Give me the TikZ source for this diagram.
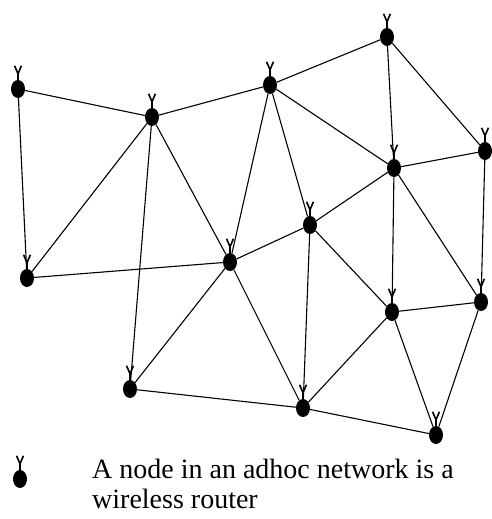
\documentclass[tikz,border=0pt]{standalone}
\usepackage{fontspec}
\setmainfont{Liberation Serif}
\usetikzlibrary{shapes.geometric}
\tikzset{
  router/.style={ellipse, fill=black, draw=none, inner sep=0pt, minimum width=14pt, minimum height=18pt},
  antenna/.style={line width=1.6pt},
  link/.style={line width=1.1pt},
  legendtext/.style={anchor=base west, inner sep=0pt, font=\fontsize{28}{32}\selectfont}
}
\newcommand{\router}[2]{%
  \node[router] (#1) at (#2) {};
  \draw[antenna] (#1.north) -- ++(0,-6) -- ++(-3.4,-8) ++(3.4,8) -- ++(3.4,-8);
}
\begin{document}
\begin{tikzpicture}[x=1pt,y=-1pt]
\useasboundingbox (0,0) rectangle (492,519);
\router{A}{18,89}
\router{B}{152,117}
\router{C}{270,85}
\router{D}{387,37}
\router{E}{485,151}
\router{F}{394,168}
\router{G}{310,225}
\router{H}{230,262}
\router{I}{27,278}
\router{J}{392,312}
\router{K}{481,302}
\router{L}{130,389}
\router{M}{303,408}
\router{N}{436,435}
\foreach \a/\b in {A/B,A/I,B/C,B/I,B/H,B/L,C/D,C/H,C/G,C/F,D/F,D/E,E/F,E/K,F/G,F/J,F/K,G/H,G/M,G/J,H/I,H/L,H/M,J/K,J/M,J/N,K/N,L/M,M/N}
  \draw[link] (\a) -- (\b);
\router{Leg}{20,479}
\node[legendtext] (t1) at (92,478) {A node in an adhoc network is a};
\node[legendtext] (t2) at (92,508) {wireless router};
\end{tikzpicture}
\end{document}
